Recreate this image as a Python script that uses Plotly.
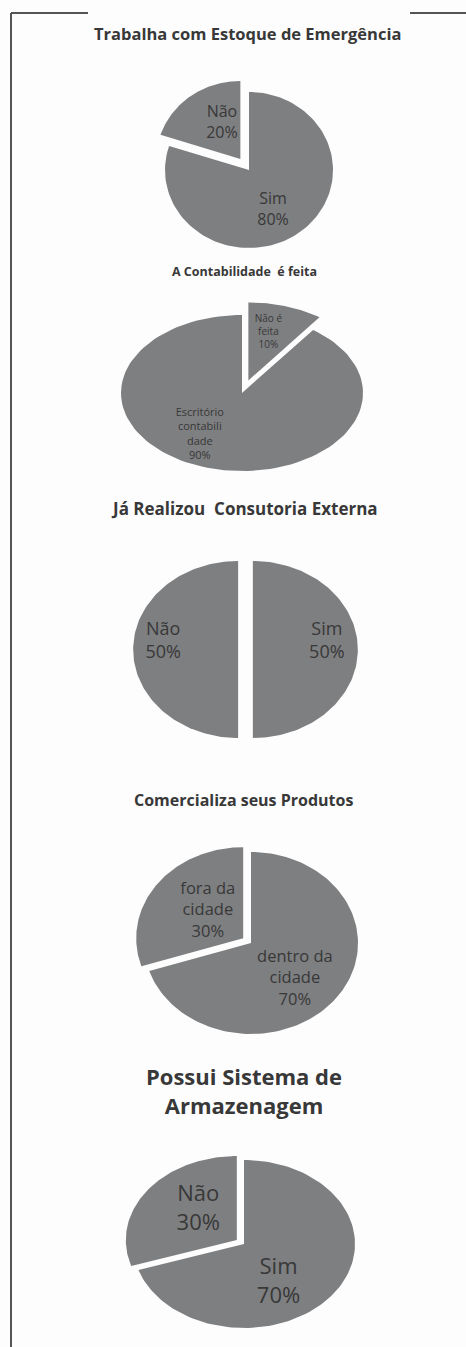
import numpy as np
import plotly.graph_objects as go

# ---------------- data ----------------
titles = [
    "Trabalha com Estoque de Emergência",
    "A Contabilidade  é feita",
    "Já Realizou  Consutoria Externa",
    "Comercializa seus Produtos",
    "Possui Sistema de<br>Armazenagem",
]

cats1 = ["Sim", "Não"]
vals1 = [80, 20]

cats2 = ["Não é<br>feita", "Escritório<br>contabili<br>dade"]
vals2 = [10, 90]

cats3 = ["Sim", "Não"]
vals3 = [50, 50]

cats4 = ["dentro da<br>cidade", "fora da<br>cidade"]
vals4 = [70, 30]

cats5 = ["Sim", "Não"]
vals5 = [70, 30]

# ---------------- style / layout ----------------
W, H = 466, 1347
K = 1.3
FILL = "#7e7f81"
TXT = "#383838"
FONT = "Open Sans"

pies = [
    dict(cats=cats1, vals=vals1, cx=249, cy=170, rx=84, ry=78, pull=[0, 0.175],
         lab_r=[0.59, 0.5], lab_da=[7, 10], fs=16, title_x=247, title_y=33, title_fs=16.5),
    dict(cats=cats2, vals=vals2, cx=242, cy=393, rx=121, ry=78, pull=[0.17, 0],
         lab_r=[0.64, 0.64], lab_da=[-3, 15], fs=[10, 11], title_x=245, title_y=271, title_fs=12.5),
    dict(cats=cats3, vals=vals3, cx=245.5, cy=649.5, rx=105, ry=88.5, pull=[0.07, 0.07],
         lab_r=[0.71, 0.72], lab_da=[-7, 7], fs=18, title_x=244, title_y=508, title_fs=17),
    dict(cats=cats4, vals=vals4, cx=251, cy=943, rx=107, ry=91, pull=[0, 0.09],
         lab_r=[0.57, 0.445], lab_da=[8, 6], fs=16.5, title_x=243, title_y=800, title_fs=16),
    dict(cats=cats5, vals=vals5, cx=244, cy=1244, rx=111, ry=84, pull=[0, 0.08],
         lab_r=[0.556, 0.5], lab_da=[20, 10], fs=22, title_x=244, title_y=1090, title_fs=22),
]

fig = go.Figure()
annotations = []

for i, p in enumerate(pies, start=1):
    xa = "x" if i == 1 else f"x{i}"
    ya = "y" if i == 1 else f"y{i}"
    vals = np.array(p["vals"], dtype=float)
    frac = vals / vals.sum()
    starts = np.concatenate([[0], np.cumsum(frac)[:-1]]) * 360
    ends = np.cumsum(frac) * 360
    fs_list = p["fs"] if isinstance(p["fs"], list) else [p["fs"]] * len(vals)
    for j, (a0, a1) in enumerate(zip(starts, ends)):
        mid = np.deg2rad((a0 + a1) / 2)
        ox = p["pull"][j] * np.sin(mid)
        oy = p["pull"][j] * np.cos(mid)
        t = np.deg2rad(np.linspace(a0, a1, 120))
        xs = np.concatenate([[ox], ox + np.sin(t), [ox]])
        ys = np.concatenate([[oy], oy + np.cos(t), [oy]])
        fig.add_trace(go.Scatter(
            x=xs, y=ys, mode="lines", fill="toself", fillcolor=FILL,
            line=dict(width=0, color=FILL), xaxis=xa, yaxis=ya,
            hoverinfo="skip", showlegend=False,
        ))
        lr = p["lab_r"][j]
        la = mid + np.deg2rad(p["lab_da"][j])
        fig.add_trace(go.Scatter(
            x=[ox + lr * np.sin(la)], y=[oy + lr * np.cos(la)],
            mode="text", text=[f"{p['cats'][j]}<br>{int(p['vals'][j])}%"],
            textfont=dict(family=FONT, size=fs_list[j], color=TXT),
            textposition="middle center", xaxis=xa, yaxis=ya,
            hoverinfo="skip", showlegend=False,
        ))
    # pixel extents of this pie's axes (clipped to the page)
    pl = max(p["cx"] - p["rx"] * K, 0)
    pr = min(p["cx"] + p["rx"] * K, W)
    pt = max(p["cy"] - p["ry"] * K, 0)
    pb = min(p["cy"] + p["ry"] * K, H)
    xd = [pl / W, pr / W]
    yd = [1 - pb / H, 1 - pt / H]
    xr = [(pl - p["cx"]) / p["rx"], (pr - p["cx"]) / p["rx"]]
    yr = [-(pb - p["cy"]) / p["ry"], (p["cy"] - pt) / p["ry"]]
    axkw = dict(visible=False, showgrid=False, zeroline=False, fixedrange=True)
    sfx = "" if i == 1 else str(i)
    fig.layout[f"xaxis{sfx}"] = dict(domain=xd, range=xr, anchor=ya, **axkw)
    fig.layout[f"yaxis{sfx}"] = dict(domain=yd, range=yr, anchor=xa, **axkw)
    annotations.append(dict(
        text=f"<b>{titles[i-1]}</b>", x=p["title_x"] / W,
        y=1 - p["title_y"] / H, xref="paper", yref="paper",
        xanchor="center", yanchor="middle", showarrow=False,
        font=dict(family=FONT, size=p["title_fs"], color=TXT),
    ))

line_c = "#555555"
shapes = [
    dict(type="line", xref="paper", yref="paper", x0=11 / W, x1=11 / W,
         y0=1 - 13 / H, y1=0, line=dict(color=line_c, width=2)),
    dict(type="line", xref="paper", yref="paper", x0=11 / W, x1=88 / W,
         y0=1 - 13 / H, y1=1 - 13 / H, line=dict(color=line_c, width=2)),
    dict(type="line", xref="paper", yref="paper", x0=410 / W, x1=1,
         y0=1 - 13 / H, y1=1 - 13 / H, line=dict(color=line_c, width=2)),
]

fig.update_layout(
    width=W, height=H, margin=dict(l=0, r=0, t=0, b=0),
    paper_bgcolor="#fdfdfd", plot_bgcolor="rgba(0,0,0,0)",
    annotations=annotations, shapes=shapes, showlegend=False,
)

fig.write_html("out.html", config={"displayModeBar": False},
               post_script="document.body.style.margin='0';")
